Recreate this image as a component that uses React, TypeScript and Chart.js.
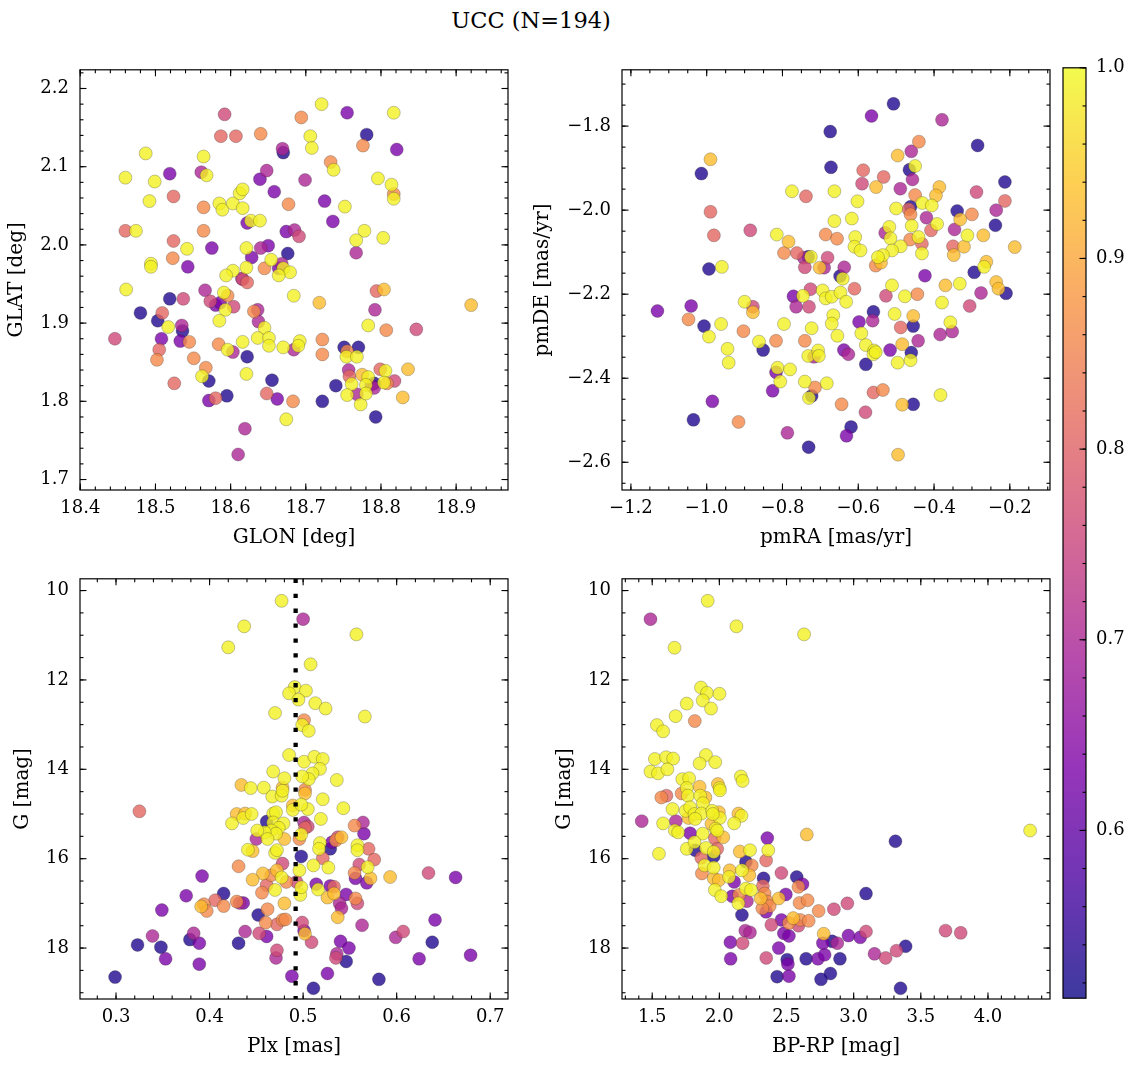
import React, { useEffect, useRef } from "react";
import { Chart, registerables } from "chart.js";
Chart.register(...registerables);

const SERIF = "'DejaVu Serif', 'Liberation Serif', serif";

// ---------------- Panel 1: sky position ----------------
const glon = [
  18.460,18.487,18.499,18.519,18.492,18.524,18.460,18.474,18.524,18.542,
  18.523,18.494,18.494,18.543,18.575,18.592,18.587,18.607,18.640,18.564,
  18.561,18.568,18.564,18.564,18.585,18.589,18.603,18.616,18.612,18.616,
  18.622,18.627,18.639,18.639,18.648,18.658,18.669,18.670,18.677,18.694,
  18.706,18.708,18.721,18.699,18.755,18.781,18.776,18.821,18.817,18.733,
  18.737,18.725,18.752,18.736,18.796,18.814,18.817,18.817,18.778,18.767,
  18.803,18.767,18.674,18.685,18.691,18.676,18.650,18.640,18.621,18.628,
  18.654,18.645,18.621,18.603,18.594,18.615,18.668,18.664,18.670,18.679,
  18.664,18.461,18.519,18.537,18.480,18.509,18.503,18.517,18.535,18.536,
  18.508,18.446,18.533,18.545,18.505,18.502,18.551,18.566,18.573,18.580,
  18.586,18.591,18.596,18.593,18.604,18.585,18.616,18.622,18.631,18.636,
  18.637,18.645,18.636,18.651,18.651,18.584,18.596,18.603,18.616,18.622,
  18.621,18.567,18.562,18.571,18.525,18.571,18.580,18.595,18.619,18.610,
  18.655,18.648,18.662,18.683,18.674,18.684,18.670,18.684,18.692,18.690,
  18.718,18.722,18.722,18.722,18.740,18.751,18.770,18.755,18.754,18.768,
  18.757,18.758,18.761,18.755,18.768,18.773,18.775,18.783,18.780,18.787,
  18.791,18.780,18.793,18.791,18.783,18.792,18.794,18.804,18.807,18.799,
  18.808,18.806,18.804,18.818,18.836,18.829,18.847,18.920,
];
const glat = [
  2.086,2.117,2.081,2.091,2.056,2.062,2.018,2.018,2.005,1.995,
  1.983,1.976,1.972,1.972,1.996,2.167,2.139,2.139,2.142,2.113,
  2.093,2.089,2.048,2.018,2.053,2.045,2.053,2.047,2.066,2.071,
  2.028,2.031,2.031,2.084,2.095,2.068,2.123,2.118,2.052,2.163,
  2.139,2.124,2.180,2.083,2.169,2.141,2.127,2.122,2.169,2.106,
  2.096,2.056,2.049,2.030,2.085,2.077,2.065,2.059,2.018,2.006,
  2.009,1.990,2.017,2.019,2.011,1.989,1.999,1.996,1.996,1.984,
  1.981,1.970,1.971,1.967,1.961,1.957,1.976,1.970,1.970,1.965,
  1.961,1.943,1.931,1.931,1.913,1.913,1.903,1.895,1.897,1.890,
  1.880,1.880,1.877,1.876,1.866,1.853,1.855,1.942,1.928,1.923,
  1.926,1.939,1.935,1.917,1.921,1.903,1.956,1.952,1.915,1.917,
  1.902,1.894,1.881,1.881,1.871,1.873,1.866,1.863,1.876,1.857,
  1.835,1.843,1.832,1.826,1.823,1.801,1.804,1.807,1.765,1.732,
  1.827,1.810,1.803,1.800,1.777,1.935,1.869,1.866,1.877,1.871,
  1.926,1.879,1.860,1.800,1.820,1.869,1.869,1.864,1.857,1.857,
  1.840,1.832,1.822,1.808,1.809,1.796,1.834,1.831,1.821,1.821,
  1.817,1.810,1.780,1.823,1.897,1.917,1.941,1.943,1.891,1.841,
  1.823,1.839,1.824,1.826,1.841,1.805,1.892,1.923,
];
const probSky = [
  .99,.99,.99,.63,.99,.81,.81,.99,.81,.99,
  .86,.99,.99,.63,.63,.76,.81,.81,.86,.99,
  .70,.99,.86,.86,.99,.99,.99,.99,.99,.99,
  .63,.99,.99,.63,.70,.63,.70,.53,.86,.86,
  .99,.99,.99,.70,.63,.53,.86,.63,.99,.86,
  .99,.63,.99,.63,.99,.99,.86,.99,.99,.99,
  .99,.70,.63,.70,.76,.53,.63,.70,.99,.63,
  .99,.86,.99,.99,.99,.70,.70,.63,.99,.99,
  .99,.99,.53,.76,.53,.81,.53,.99,.70,.53,
  .63,.76,.63,.86,.81,.86,.86,.70,.76,.63,
  .63,.99,.86,.99,.76,.99,.76,.81,.86,.70,
  .70,.99,.99,.99,.99,.86,.99,.70,.99,.53,
  .99,.86,.99,.53,.81,.63,.81,.53,.70,.70,
  .53,.81,.63,.86,.99,.99,.99,.70,.99,.99,
  .93,.86,.86,.53,.53,.53,.53,.86,.99,.99,
  .70,.81,.99,.99,.70,.99,.93,.99,.99,.63,
  .70,.99,.53,.53,.99,.70,.81,.93,.86,.81,
  .86,.99,.99,.76,.93,.93,.76,.93,
];

// ---------------- Panel 2: proper motions ----------------
const pmra = [
  -0.507,-0.565,-0.379,-0.674,-0.440,-0.460,-0.285,-0.496,-0.990,-1.014,
  -0.672,-0.587,-0.533,-0.590,-0.553,-0.465,-0.450,-0.457,-0.489,-0.213,
  -0.386,-0.395,-0.288,-0.450,-0.775,-0.738,-0.663,-0.602,-0.431,-0.406,
  -0.213,-0.236,-0.500,-0.462,-0.467,-0.462,-0.420,-0.339,-0.331,-0.300,
  -0.392,-0.459,-0.238,-0.346,-0.408,-0.663,-0.617,-0.518,-0.529,-0.515,
  -0.441,-0.463,-0.432,-0.312,-0.270,-0.350,-0.321,-0.187,-0.488,-0.511,
  -0.535,-0.548,-0.540,-0.554,-0.432,-0.348,-0.262,-0.268,-0.294,-0.424,
  -0.885,-0.981,-0.990,-0.815,-0.784,-0.796,-0.762,-0.744,-0.732,-0.725,
  -0.741,-0.681,-0.702,-0.690,-0.637,-0.686,-0.656,-0.608,-0.610,-0.594,
  -0.648,-0.641,-0.994,-0.960,-1.130,-1.041,-1.048,-1.007,-0.994,-0.962,
  -0.900,-0.878,-0.878,-0.903,-0.945,-0.942,-0.985,-1.035,-0.916,-0.862,
  -0.851,-0.817,-0.796,-0.813,-0.817,-0.806,-0.780,-0.826,-0.787,-0.771,
  -0.746,-0.764,-0.730,-0.726,-0.694,-0.686,-0.670,-0.647,-0.632,-0.610,
  -0.723,-0.741,-0.732,-0.717,-0.706,-0.704,-0.741,-0.714,-0.723,-0.730,
  -0.683,-0.731,-0.666,-0.670,-0.655,-0.638,-0.626,-0.598,-0.592,-0.580,
  -0.580,-0.560,-0.562,-0.558,-0.560,-0.554,-0.516,-0.527,-0.511,-0.504,
  -0.488,-0.477,-0.484,-0.496,-0.460,-0.462,-0.455,-0.455,-0.444,-0.442,
  -0.560,-0.535,-0.581,-0.644,-0.619,-0.631,-0.484,-0.455,-0.495,-0.383,
  -0.384,-0.352,-0.357,-0.379,-0.370,-0.332,-0.306,-0.276,-0.236,-0.230,-0.210,
];
const pmde = [
  -1.747,-1.776,-1.785,-1.813,-1.837,-1.860,-1.846,-1.870,-1.879,-1.913,
  -1.898,-1.905,-1.921,-1.937,-1.945,-1.904,-1.895,-1.927,-1.949,-1.933,
  -1.945,-1.965,-1.957,-1.964,-1.955,-1.967,-1.955,-1.979,-1.983,-1.989,
  -1.978,-2.000,-1.996,-1.992,-1.998,-2.010,-2.018,-2.002,-2.022,-2.010,
  -2.033,-2.037,-2.036,-2.046,-2.048,-2.026,-2.020,-2.040,-2.054,-2.067,
  -2.064,-2.070,-2.080,-2.060,-2.060,-2.086,-2.087,-2.088,-2.086,-2.096,
  -2.107,-2.112,-2.125,-2.132,-2.103,-2.107,-2.123,-2.135,-2.148,-2.156,
  -2.048,-2.060,-2.004,-2.058,-2.075,-2.102,-2.102,-2.113,-2.111,-2.111,
  -2.136,-2.113,-2.137,-2.137,-2.136,-2.058,-2.068,-2.064,-2.087,-2.096,
  -2.157,-2.163,-2.140,-2.135,-2.240,-2.228,-2.260,-2.276,-2.301,-2.271,
  -2.218,-2.230,-2.243,-2.288,-2.330,-2.363,-2.455,-2.499,-2.504,-2.313,
  -2.333,-2.311,-2.271,-2.375,-2.386,-2.408,-2.379,-2.430,-2.530,-2.205,
  -2.204,-2.230,-2.230,-2.188,-2.191,-2.210,-2.206,-2.196,-2.218,-2.187,
  -2.281,-2.311,-2.347,-2.349,-2.334,-2.347,-2.408,-2.422,-2.442,-2.447,
  -2.412,-2.564,-2.250,-2.270,-2.299,-2.333,-2.343,-2.266,-2.293,-2.321,
  -2.367,-2.242,-2.263,-2.334,-2.343,-2.338,-2.333,-2.204,-2.179,-2.247,
  -2.279,-2.205,-2.319,-2.363,-2.339,-2.357,-2.276,-2.252,-2.200,-2.311,
  -2.434,-2.428,-2.481,-2.462,-2.516,-2.537,-2.463,-2.462,-2.582,-2.440,
  -2.296,-2.289,-2.267,-2.220,-2.179,-2.175,-2.228,-2.197,-2.171,-2.187,-2.198,
];
const probPM = [
  .53,.63,.70,.53,.86,.70,.53,.93,.93,.53,
  .53,.81,.81,.76,.93,.53,.99,.70,.70,.53,
  .93,.93,.76,.86,.99,.81,.99,.99,.99,.99,
  .81,.70,.99,.53,.81,.86,.70,.53,.93,.86,
  .99,.99,.53,.70,.81,.99,.99,.99,.70,.99,
  .99,.86,.81,.99,.93,.81,.93,.93,.99,.99,
  .99,.99,.93,.86,.99,.93,.93,.99,.53,.63,
  .76,.81,.81,.99,.93,.86,.81,.70,.53,.99,
  .76,.76,.93,.70,.70,.86,.86,.99,.99,.99,
  .53,.99,.53,.99,.63,.63,.86,.53,.99,.99,
  .99,.76,.93,.86,.99,.99,.63,.53,.86,.99,
  .53,.86,.99,.99,.63,.99,.99,.63,.70,.63,
  .99,.70,.76,.76,.99,.99,.99,.99,.99,.81,
  .99,.86,.99,.70,.99,.99,.99,.86,.53,.99,
  .99,.53,.99,.99,.99,.63,.70,.63,.99,.99,
  .53,.53,.70,.99,.99,.99,.63,.76,.99,.99,
  .81,.99,.93,.99,.53,.99,.53,.93,.86,.70,
  .81,.86,.76,.86,.53,.63,.93,.53,.93,.99,
  .70,.70,.99,.99,.93,.99,.76,.70,.93,.93,.53,
];

// ---------------- Panel 3: parallax vs G ----------------
const plx = [
  0.477,0.500,0.437,0.557,0.420,0.508,0.491,0.503,0.485,0.495,
  0.513,0.524,0.470,0.566,0.501,0.499,0.506,0.485,0.501,0.512,
  0.521,0.518,0.510,0.506,0.499,0.536,0.468,0.480,0.434,0.444,
  0.458,0.478,0.502,0.325,0.424,0.429,0.438,0.436,0.445,0.467,
  0.477,0.478,0.502,0.521,0.543,0.489,0.489,0.505,0.498,0.519,
  0.461,0.468,0.471,0.468,0.479,0.474,0.466,0.471,0.459,0.451,
  0.450,0.462,0.480,0.501,0.502,0.505,0.498,0.496,0.555,0.564,
  0.565,0.537,0.541,0.535,0.531,0.529,0.518,0.517,0.558,0.558,
  0.570,0.576,0.560,0.569,0.555,0.556,0.572,0.568,0.593,0.634,
  0.663,0.441,0.446,0.470,0.472,0.478,0.498,0.521,0.511,0.527,
  0.496,0.431,0.457,0.466,0.472,0.477,0.482,0.446,0.493,0.461,
  0.470,0.456,0.497,0.498,0.514,0.516,0.529,0.533,0.526,0.533,
  0.546,0.539,0.541,0.537,0.556,0.558,0.563,0.480,0.462,0.452,
  0.460,0.472,0.478,0.481,0.499,0.501,0.502,0.509,0.511,0.488,
  0.526,0.536,0.535,0.546,0.540,0.549,0.581,0.599,0.607,0.624,
  0.638,0.641,0.679,0.472,0.471,0.453,0.461,0.438,0.431,0.394,
  0.391,0.397,0.406,0.415,0.415,0.429,0.432,0.436,0.375,0.392,
  0.349,0.339,0.323,0.348,0.353,0.299,0.379,0.383,0.389,0.389,
];
const gPlx = [
  10.23,10.64,10.80,10.98,11.27,11.65,12.16,12.24,12.30,12.44,
  12.52,12.64,12.74,12.82,12.90,13.01,13.14,13.68,13.83,13.72,
  13.77,13.99,14.09,14.22,14.16,14.24,14.05,14.20,14.35,14.42,
  14.41,14.41,14.46,14.94,15.21,15.00,14.99,15.09,15.00,14.61,
  14.59,14.48,14.54,14.67,14.87,14.91,14.81,14.89,14.79,15.11,
  15.17,14.99,14.96,15.19,15.21,15.31,15.37,15.44,15.41,15.37,
  15.56,15.56,15.56,15.19,15.31,15.28,15.46,15.56,15.26,15.19,
  15.44,15.52,15.52,15.59,15.63,15.78,15.65,15.78,15.70,15.81,
  15.78,16.02,16.13,16.19,16.32,16.44,16.44,16.54,16.41,16.32,
  16.42,15.80,15.83,15.87,15.81,16.11,15.95,15.99,16.15,16.20,
  16.26,16.17,16.33,16.37,16.26,16.42,16.52,16.47,16.52,16.59,
  16.70,16.76,16.81,16.64,16.57,16.69,16.61,16.63,16.87,16.78,
  16.80,17.00,17.11,17.31,16.89,17.00,17.49,17.00,17.13,17.26,
  17.43,17.47,17.37,17.36,17.43,17.61,17.68,17.87,18.90,18.63,
  18.57,18.13,18.22,18.30,17.85,18.00,18.70,17.76,17.63,18.24,
  17.87,17.37,18.16,18.05,18.22,17.67,17.74,17.63,17.89,17.02,
  17.07,17.17,16.93,17.06,16.78,16.96,16.99,16.99,16.83,16.39,
  17.15,17.73,17.93,17.98,18.24,18.65,17.81,17.67,17.89,18.36,
];
const probPlx = [
  .99,.70,.99,.99,.99,.99,.99,.99,.99,.99,
  .99,.99,.99,.99,.86,.99,.99,.99,.99,.99,
  .99,.99,.99,.99,.99,.99,.99,.99,.93,.99,
  .99,.93,.86,.81,.99,.93,.93,.99,.99,.99,
  .99,.99,.93,.99,.99,.99,.93,.99,.99,.99,
  .53,.99,.99,.99,.99,.99,.99,.99,.99,.99,
  .70,.99,.93,.70,.81,.76,.99,.86,.86,.70,
  .63,.76,.93,.86,.63,.53,.99,.99,.99,.99,
  .81,.81,.76,.99,.86,.63,.93,.63,.93,.76,
  .63,.99,.93,.99,.99,.76,.53,.81,.99,.99,
  .99,.86,.93,.86,.93,.99,.86,.93,.76,.81,
  .99,.86,.99,.99,.63,.99,.63,.81,.93,.93,
  .63,.70,.70,.93,.86,.76,.70,.93,.86,.53,
  .86,.81,.86,.86,.76,.63,.93,.76,.53,.63,
  .63,.70,.76,.53,.63,.63,.53,.70,.76,.63,
  .53,.63,.63,.76,.70,.76,.63,.70,.53,.86,
  .93,.86,.81,.86,.53,.86,.70,.63,.63,.63,
  .63,.70,.53,.53,.63,.53,.53,.70,.63,.63,
];
const plxMedian = 0.492;

// ---------------- Panel 4: colour-magnitude ----------------
const bprp = [
  1.487,1.913,2.127,2.631,1.666,1.863,1.908,2.001,1.876,1.757,
  1.938,1.674,1.817,1.535,1.581,1.520,1.603,1.656,1.900,1.853,
  1.969,1.487,1.543,1.613,1.724,1.775,2.160,2.173,1.757,1.853,
  1.989,2.001,1.568,1.606,1.719,1.765,1.858,1.896,1.878,2.004,
  1.651,1.749,1.782,1.815,1.866,1.946,1.996,2.004,1.951,1.820,
  1.770,2.142,2.165,2.110,1.422,1.581,1.676,1.668,1.693,1.941,
  1.972,1.984,2.029,1.966,1.876,1.782,2.357,2.651,3.311,4.314,
  1.550,1.757,1.815,1.820,1.900,1.984,1.958,1.958,1.865,1.890,
  1.870,1.958,1.958,1.996,1.966,2.014,2.072,2.077,2.110,2.152,
  2.228,2.364,2.348,2.198,2.241,2.223,2.168,2.198,2.236,2.147,
  2.096,2.142,2.205,2.168,2.329,2.324,2.337,2.307,2.357,2.375,
  2.320,2.348,2.442,2.495,2.462,2.576,2.619,2.589,2.597,2.657,
  2.739,2.550,2.462,2.518,2.602,2.665,2.589,2.387,2.853,2.953,
  3.092,2.193,2.228,2.173,2.082,2.084,2.349,2.442,2.480,2.518,
  2.505,2.510,2.430,2.518,2.646,2.734,2.784,2.771,2.840,2.878,
  2.827,2.757,2.898,2.777,2.961,3.049,3.092,3.155,3.238,3.319,
  3.387,3.349,3.684,3.797,
];
const gCmd = [
  10.64,10.23,10.80,10.98,11.28,12.17,12.29,12.31,12.46,12.53,
  12.64,12.81,12.92,13.01,13.15,13.77,13.73,13.76,13.68,13.87,
  13.84,14.05,14.09,14.00,14.22,14.20,14.16,14.26,14.42,14.39,
  14.33,14.42,14.63,14.59,14.54,14.59,14.59,14.63,14.76,14.47,
  14.89,14.93,14.85,15.00,14.99,14.93,14.96,15.09,15.00,15.11,
  15.09,14.99,15.04,15.21,15.16,15.21,15.16,15.37,15.41,15.22,
  15.33,15.37,15.52,15.54,15.44,15.43,15.54,15.46,15.61,15.37,
  15.89,15.78,15.63,15.81,15.76,15.78,15.85,15.95,15.98,16.15,
  16.33,16.20,16.44,16.48,16.70,16.84,16.41,16.26,16.52,15.84,
  15.81,15.81,16.04,16.07,16.15,16.37,16.26,16.67,16.70,16.81,
  16.84,17.00,16.95,17.26,16.44,16.61,16.78,16.89,16.96,17.06,
  17.11,17.19,16.89,16.80,16.32,16.41,16.57,16.63,16.99,16.93,
  17.17,17.33,17.37,17.44,17.37,17.39,17.50,17.48,17.13,17.00,
  16.78,17.61,17.65,17.89,17.87,18.24,18.22,18.00,17.67,17.73,
  18.26,18.36,18.64,18.63,18.24,18.24,18.15,17.89,17.85,17.89,
  18.57,18.70,18.24,17.68,17.72,17.76,17.63,18.13,18.22,18.06,
  17.96,18.90,17.61,17.66,
];
const probCmd = [
  .70,.99,.99,.99,.99,.99,.99,.99,.99,.99,
  .99,.99,.86,.99,.99,.99,.99,.99,.99,.99,
  .99,.99,.99,.99,.99,.99,.99,.99,.99,.93,
  .93,.99,.86,.81,.86,.99,.99,.93,.99,.99,
  .99,.99,.99,.99,.99,.99,.93,.99,.99,.99,
  .93,.93,.99,.99,.70,.99,.70,.99,.99,.93,
  .99,.99,.93,.81,.99,.63,.63,.93,.53,.99,
  .99,.99,.99,.53,.99,.81,.99,.53,.81,.99,
  .86,.99,.93,.93,.99,.99,.99,.93,.63,.93,
  .99,.99,.81,.53,.86,.93,.99,.99,.99,.86,
  .63,.99,.70,.53,.53,.81,.86,.93,.86,.86,
  .86,.63,.93,.63,.76,.53,.63,.86,.86,.86,
  .86,.93,.63,.86,.86,.86,.76,.76,.76,.76,
  .53,.70,.70,.76,.63,.63,.76,.63,.63,.63,
  .53,.63,.53,.63,.53,.63,.63,.63,.53,.70,
  .53,.53,.53,.93,.63,.63,.76,.70,.76,.76,
  .53,.53,.76,.76,
];

// ---------------- ticks ----------------
const glonTicks = [18.4, 18.5, 18.6, 18.7, 18.8, 18.9];
const glatTicks = [1.7, 1.8, 1.9, 2.0, 2.1, 2.2];
const pmraTicks = [-1.2, -1.0, -0.8, -0.6, -0.4, -0.2];
const pmdeTicks = [-2.6, -2.4, -2.2, -2.0, -1.8];
const plxTicks = [0.3, 0.4, 0.5, 0.6, 0.7];
const gTicks = [10, 12, 14, 16, 18];
const bprpTicks = [1.5, 2.0, 2.5, 3.0, 3.5, 4.0];
const probTicks = [0.6, 0.7, 0.8, 0.9, 1.0];

const P_MIN = 0.512;
const P_MAX = 1.0;

// plasma colormap anchors
const PLASMA = [
  [13, 8, 135], [75, 3, 161], [125, 3, 168], [168, 34, 150], [203, 70, 121],
  [229, 107, 93], [248, 148, 65], [253, 195, 40], [240, 249, 33],
];
function plasma(t: number): number[] {
  const c = Math.max(0, Math.min(1, t)) * (PLASMA.length - 1);
  const i = Math.min(PLASMA.length - 2, Math.floor(c));
  const f = c - i;
  return [0, 1, 2].map((k) => Math.round(PLASMA[i][k] + (PLASMA[i + 1][k] - PLASMA[i][k]) * f));
}
function probColor(p: number, a = 0.8) {
  const [r, g, b] = plasma((p - P_MIN) / (P_MAX - P_MIN));
  return `rgba(${r},${g},${b},${a})`;
}

const fmt = (d: number) => (v: any) => Number(v).toFixed(d).replace("-", "\u2212");

function stepVals(min: number, max: number, step: number) {
  const out: number[] = [];
  const lo = Math.min(min, max), hi = Math.max(min, max);
  for (let k = Math.ceil(lo / step - 1e-6); k * step <= hi + 1e-9; k++) out.push(k * step);
  return out;
}

const inwardTicks = {
  id: "inwardTicks",
  afterDraw(chart: any, _args: any, o: any) {
    const ctx = chart.ctx;
    const a = chart.chartArea;
    ctx.save();
    ctx.strokeStyle = "#000";
    ctx.lineWidth = 1.1;
    const seg = (x1: number, y1: number, x2: number, y2: number) => {
      ctx.beginPath(); ctx.moveTo(x1, y1); ctx.lineTo(x2, y2); ctx.stroke();
    };
    for (const ax of o.axes || []) {
      const sc = chart.scales[ax.id];
      const list: [number, number][] = [];
      stepVals(sc.min, sc.max, ax.minor).forEach((v) => list.push([v, 3.5]));
      ax.major.forEach((v: number) => list.push([v, 6.5]));
      for (const [v, len] of list) {
        const px = sc.getPixelForValue(v);
        if (ax.id === "x") {
          if (px < a.left - 0.5 || px > a.right + 0.5) continue;
          seg(px, a.bottom, px, a.bottom - len);
          seg(px, a.top, px, a.top + len);
        } else {
          if (px < a.top - 0.5 || px > a.bottom + 0.5) continue;
          if (ax.sides !== "right") seg(a.left, px, a.left + len, px);
          seg(a.right, px, a.right - len, px);
        }
      }
    }
    ctx.lineWidth = 1.2;
    ctx.strokeRect(a.left, a.top, a.right - a.left, a.bottom - a.top);
    ctx.restore();
  },
};

const ML = 100, MT = 20, MR = 20, MB = 70;

type PanelProps = {
  left: number; top: number; w: number; h: number;
  xs: number[]; ys: number[]; ps: number[];
  xRange: [number, number]; yRange: [number, number];
  xTicks: number[]; yTicks: number[]; xDec: number; yDec: number;
  xMinor: number; yMinor: number;
  xLabel: string; yLabel: string; yLabelPad: number;
  reverseY?: boolean; vline?: number;
};

function Panel(p: PanelProps) {
  const ref = useRef<HTMLCanvasElement>(null);
  useEffect(() => {
    const order = p.ps.map((_, i) => i).sort((a, b) => p.ps[a] - p.ps[b]);
    const pts = order.map((i) => ({ x: p.xs[i], y: p.ys[i] }));
    const cols = order.map((i) => probColor(p.ps[i], 0.8));
    const datasets: any[] = [
      {
        type: "scatter",
        data: pts,
        pointRadius: 6.5,
        pointHoverRadius: 6.5,
        pointBackgroundColor: cols,
        pointBorderColor: "rgba(40,40,40,0.45)",
        pointBorderWidth: 0.6,
        order: 2,
      },
    ];
    if (p.vline !== undefined) {
      datasets.push({
        type: "line",
        data: [{ x: p.vline, y: p.yRange[0] - 1 }, { x: p.vline, y: p.yRange[1] + 1 }],
        borderColor: "#000",
        borderWidth: 4.3,
        borderDash: [4.3, 10.6],
        borderCapStyle: "butt",
        pointRadius: 0,
        fill: false,
        clip: 0,
        order: 1,
      });
    }
    const tickFont = { family: SERIF, size: 18 };
    const labFont = { family: SERIF, size: 20 };
    const chart = new Chart(ref.current as HTMLCanvasElement, {
      type: "scatter",
      data: { datasets },
      options: {
        animation: false,
        responsive: false,
        devicePixelRatio: 1,
        events: [],
        layout: { padding: { left: 0, top: MT, right: MR, bottom: 0 } },
        plugins: {
          legend: { display: false },
          tooltip: { enabled: false },
          inwardTicks: {
            axes: [
              { id: "x", major: p.xTicks, minor: p.xMinor },
              { id: "y", major: p.yTicks, minor: p.yMinor },
            ],
          },
        } as any,
        scales: {
          x: {
            type: "linear",
            min: p.xRange[0],
            max: p.xRange[1],
            afterBuildTicks: (s: any) => { s.ticks = p.xTicks.map((v) => ({ value: v })); },
            afterFit: (s: any) => { s.height = MB; },
            grid: { display: false, drawTicks: false },
            border: { display: false },
            ticks: { autoSkip: false, maxRotation: 0, padding: 8, font: tickFont, color: "#000", callback: fmt(p.xDec) },
            title: { display: true, text: p.xLabel, font: labFont, color: "#000", padding: { top: 0, bottom: 10 } },
          },
          y: {
            type: "linear",
            min: p.yRange[0],
            max: p.yRange[1],
            reverse: !!p.reverseY,
            afterBuildTicks: (s: any) => { s.ticks = p.yTicks.map((v) => ({ value: v })); },
            afterFit: (s: any) => { s.width = ML; },
            grid: { display: false, drawTicks: false },
            border: { display: false },
            ticks: { autoSkip: false, padding: 11, font: tickFont, color: "#000", callback: fmt(p.yDec) },
            title: { display: true, text: p.yLabel, font: labFont, color: "#000", padding: { top: p.yLabelPad, bottom: 0 } },
          },
        } as any,
      },
      plugins: [inwardTicks as any],
    });
    return () => chart.destroy();
  }, []);
  const W = p.w + ML + MR, H = p.h + MT + MB;
  return (
    <canvas
      ref={ref}
      width={W}
      height={H}
      style={{ position: "absolute", left: p.left - ML, top: p.top - MT, width: W, height: H }}
    />
  );
}

function ColorBar({ left, top, w, h }: { left: number; top: number; w: number; h: number }) {
  const ref = useRef<HTMLCanvasElement>(null);
  const PL = 20, PT = 20, PB = 20, AW = 50;
  useEffect(() => {
    const gradient = {
      id: "cbGradient",
      beforeDraw(chart: any) {
        const { ctx, chartArea: a } = chart;
        const g = ctx.createLinearGradient(0, a.bottom, 0, a.top);
        PLASMA.forEach((c, i) => g.addColorStop(i / (PLASMA.length - 1), `rgba(${c[0]},${c[1]},${c[2]},0.8)`));
        ctx.save();
        ctx.fillStyle = g;
        ctx.fillRect(a.left, a.top, a.right - a.left, a.bottom - a.top);
        ctx.restore();
      },
    };
    const chart = new Chart(ref.current as HTMLCanvasElement, {
      type: "scatter",
      data: { datasets: [] },
      options: {
        animation: false,
        responsive: false,
        devicePixelRatio: 1,
        events: [],
        layout: { padding: { left: PL, top: PT, right: 0, bottom: PB } },
        plugins: {
          legend: { display: false },
          tooltip: { enabled: false },
          inwardTicks: { axes: [{ id: "y", major: probTicks, minor: 0.02, sides: "right" }] },
        } as any,
        scales: {
          x: { type: "linear", display: false, min: 0, max: 1 },
          y: {
            type: "linear",
            position: "right",
            min: P_MIN,
            max: P_MAX,
            afterBuildTicks: (s: any) => { s.ticks = probTicks.map((v) => ({ value: v })); },
            afterFit: (s: any) => { s.width = AW; },
            grid: { display: false, drawTicks: false },
            border: { display: false },
            ticks: { autoSkip: false, padding: 10, font: { family: SERIF, size: 18 }, color: "#000", callback: fmt(1) },
          },
        } as any,
      },
      plugins: [gradient as any, inwardTicks as any],
    });
    return () => chart.destroy();
  }, []);
  const W = w + PL + AW, H = h + PT + PB;
  return (
    <canvas
      ref={ref}
      width={W}
      height={H}
      style={{ position: "absolute", left: left - PL, top: top - PT, width: W, height: H }}
    />
  );
}

export default function App() {
  const W = 428, H = 422;
  return (
    <div style={{ position: "absolute", left: 0, top: 0, width: 1136, height: 1067, background: "#fff", overflow: "hidden" }}>
      <div
        style={{
          position: "absolute", left: 0, top: 8, width: 1062, textAlign: "center",
          fontFamily: SERIF, fontSize: 22.5, lineHeight: "24px", color: "#000",
        }}
      >
        UCC (N=194)
      </div>
      <Panel
        left={80} top={68} w={W} h={H}
        xs={glon} ys={glat} ps={probSky}
        xRange={[18.3996, 18.969]} yRange={[1.6866, 2.2239]}
        xTicks={glonTicks} yTicks={glatTicks} xDec={1} yDec={1}
        xMinor={0.02} yMinor={0.02}
        xLabel="GLON [deg]" yLabel="GLAT [deg]" yLabelPad={25}
      />
      <Panel
        left={622} top={68} w={W} h={H}
        xs={pmra} ys={pmde} ps={probPM}
        xRange={[-1.2235, -0.094]} yRange={[-2.666, -1.666]}
        xTicks={pmraTicks} yTicks={pmdeTicks} xDec={1} yDec={1}
        xMinor={0.05} yMinor={0.05}
        xLabel="pmRA [mas/yr]" yLabel="pmDE [mas/yr]" yLabelPad={9}
      />
      <Panel
        left={80} top={577} w={W} h={H}
        xs={plx} ys={gPlx} ps={probPlx}
        xRange={[0.2615, 0.719]} yRange={[9.737, 19.14]} reverseY
        xTicks={plxTicks} yTicks={gTicks} xDec={1} yDec={0}
        xMinor={0.02} yMinor={0.5}
        xLabel="Plx [mas]" yLabel="G [mag]" yLabelPad={31}
        vline={plxMedian}
      />
      <Panel
        left={622} top={577} w={W} h={H}
        xs={bprp} ys={gCmd} ps={probCmd}
        xRange={[1.275, 4.462]} yRange={[9.737, 19.14]} reverseY
        xTicks={bprpTicks} yTicks={gTicks} xDec={1} yDec={0}
        xMinor={0.1} yMinor={0.5}
        xLabel="BP-RP [mag]" yLabel="G [mag]" yLabelPad={31}
      />
      <ColorBar left={1063} top={67} w={23} h={932} />
    </div>
  );
}
